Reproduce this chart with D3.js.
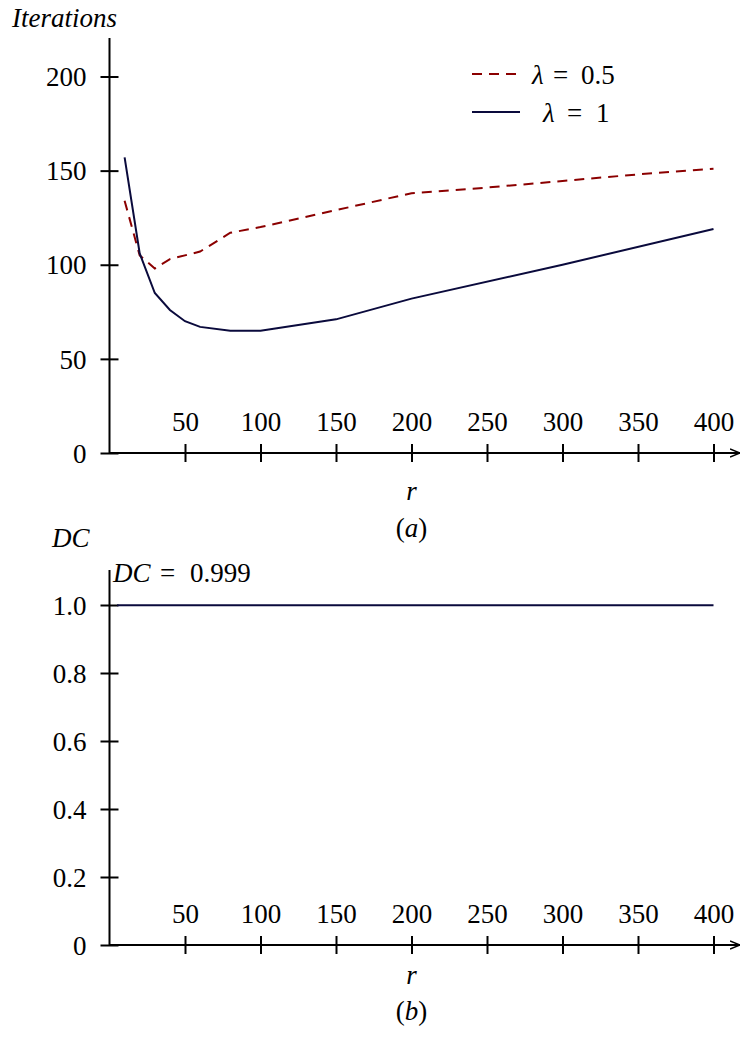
<!DOCTYPE html>
<html><head><meta charset="utf-8">
<script src="https://cdn.jsdelivr.net/npm/d3@7"></script>
<style>
body{margin:0;background:#fff;}
svg text{font-family:"Liberation Serif","Tinos","Times New Roman","DejaVu Serif",serif !important;fill:#000;}
</style></head>
<body>
<svg id="c" width="741" height="1039"></svg>
<script>
// ---- data ----
const rHalf = [10, 20, 30, 40, 60, 80, 100, 150, 200, 250, 300, 350, 400];
const itHalf = [134, 105, 98, 103, 107, 117, 120, 129, 138, 141, 144.5, 148, 151];
const rOne = [10, 20, 30, 40, 50, 60, 80, 100, 150, 200, 300, 400];
const itOne = [157, 106, 85, 76, 70, 67, 65, 65, 71, 82, 100, 119];
const rDC = [5, 50, 100, 150, 200, 250, 300, 350, 400];
const dcVals = [0.999, 0.999, 0.999, 0.999, 0.999, 0.999, 0.999, 0.999, 0.999];
const xTicks = [50, 100, 150, 200, 250, 300, 350, 400];
const yTicksTop = [0, 50, 100, 150, 200];
const yTicksBot = [0, 0.2, 0.4, 0.6, 0.8, 1.0];
const colors = ["#8b0000", "#0a0a3c"];

const svg = d3.select("#c");
const FS = 27;
const FF = "'Liberation Serif','Tinos','Times New Roman','DejaVu Serif',serif";

svg.append("defs").append("marker").attr("id","arr").attr("viewBox","0 0 10 10")
  .attr("refX",10).attr("refY",5).attr("markerWidth",10).attr("markerHeight",10)
  .attr("markerUnits","userSpaceOnUse").attr("orient","auto")
  .append("path").attr("d","M0,1 L10,5 L0,9").attr("fill","none").attr("stroke","#000").attr("stroke-width",1.6);

function panel(yRange, yDomain, yTicks, yFmt, axisTop, labelY, subY, subLabel, yTitle, yTitleX, yTitleY){
  const x = d3.scaleLinear().domain([0,400]).range([109.5,713.5]);
  const y = d3.scaleLinear().domain(yDomain).range(yRange);
  const g = svg.append("g").attr("font-family",FF);
  const x0 = x(0), y0 = y(0);
  const ya = g.append("g").attr("transform",`translate(${x0},0)`)
    .call(d3.axisLeft(y).tickValues(yTicks).tickFormat(yFmt).tickSize(9).tickPadding(14));
  ya.attr("font-family",FF);
  ya.select(".domain").remove();
  ya.selectAll(".tick line").attr("x2",-9).attr("x1",9).attr("stroke","#000").attr("stroke-width",2);
  ya.selectAll(".tick text").attr("font-size",FS).attr("fill","#000").attr("x",-23).attr("dy","0.34em");
  g.append("line").attr("x1",x0).attr("x2",x0).attr("y1",y0).attr("y2",axisTop).attr("stroke","#000").attr("stroke-width",2);
  const xa = g.append("g").attr("transform",`translate(0,${y0})`)
    .call(d3.axisBottom(x).tickValues(xTicks).tickSize(9));
  xa.attr("font-family",FF);
  xa.select(".domain").remove();
  xa.selectAll(".tick line").attr("y1",-9).attr("y2",9).attr("stroke","#000").attr("stroke-width",2);
  xa.selectAll(".tick text").attr("font-size",FS).attr("fill","#000").attr("y",-22).attr("dy","0");
  g.append("line").attr("x1",x0).attr("x2",740).attr("y1",y0).attr("y2",y0).attr("stroke","#000").attr("stroke-width",2).attr("marker-end","url(#arr)");
  g.append("text").attr("x",x(200)).attr("y",labelY).attr("text-anchor","middle").attr("font-size",FS).attr("font-style","italic").text("r");
  const s = g.append("text").attr("x",x(200)).attr("y",subY).attr("text-anchor","middle").attr("font-size",FS);
  s.append("tspan").text("(");
  s.append("tspan").attr("font-style","italic").text(subLabel);
  s.append("tspan").text(")");
  g.append("text").attr("x",yTitleX).attr("y",yTitleY).attr("font-size",FS).attr("font-style","italic").text(yTitle);
  return {x,y,g};
}

const A = panel([453,76.5],[0,200],yTicksTop,d3.format("d"),38,500,537,"a","Iterations",12,27);
const lineA = d3.line().x(d=>A.x(d[0])).y(d=>A.y(d[1]));
A.g.append("path").datum(rHalf.map((r,i)=>[r,itHalf[i]])).attr("d",lineA)
  .attr("fill","none").attr("stroke",colors[0]).attr("stroke-width",2).attr("stroke-dasharray","10,7");
A.g.append("path").datum(rOne.map((r,i)=>[r,itOne[i]])).attr("d",lineA)
  .attr("fill","none").attr("stroke",colors[1]).attr("stroke-width",2);

const legY = [74, 112];
const legParts = [["λ","=","0.5"],["λ","=","1"]];
const legX = [[532,553,581],[543,567,596]];
legY.forEach((ly,i)=>{
  A.g.append("line").attr("x1",472).attr("x2",520).attr("y1",ly).attr("y2",ly)
    .attr("stroke",colors[i]).attr("stroke-width",2).attr("stroke-dasharray", i===0?"10,7":null);
  const t = A.g.append("text").attr("y",ly+10).attr("font-size",FS);
  t.append("tspan").attr("x",legX[i][0]).attr("font-style","italic").text(legParts[i][0]);
  t.append("tspan").attr("x",legX[i][1]).text(legParts[i][1]);
  t.append("tspan").attr("x",legX[i][2]).text(legParts[i][2]);
});

const B = panel([945,605],[0,1],yTicksBot,(d)=> d===0?"0":d3.format(".1f")(d),570,984,1020,"b","DC",52,547);
const lineB = d3.line().x(d=>B.x(d[0])).y(d=>B.y(d[1]));
B.g.append("path").datum(rDC.map((r,i)=>[r,dcVals[i]])).attr("d",lineB)
  .attr("fill","none").attr("stroke",colors[1]).attr("stroke-width",2);
const dt = B.g.append("text").attr("x",113).attr("y",582).attr("font-size",FS);
dt.append("tspan").attr("font-style","italic").text("DC");
dt.append("tspan").attr("x",160).text("=");
dt.append("tspan").attr("x",190).text("0.999");
</script>
</body></html>
